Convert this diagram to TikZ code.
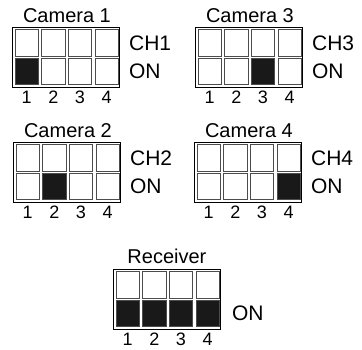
\documentclass[tikz,border=0pt]{standalone}
\usepackage{fontspec}
\setmainfont{Liberation Sans}
\usetikzlibrary{positioning,calc}

\tikzset{
    swbox/.style={draw=black, line width=0.9pt, minimum width=107pt, minimum height=60pt, inner sep=0pt},
    cell/.style={draw=black!70, line width=0.7pt, minimum width=23.5pt, minimum height=26.5pt, inner sep=0pt},
    oncell/.style={cell, fill=black!90},
    title/.style={font=\fontsize{20}{20}\selectfont, inner sep=0pt},
    side/.style={font=\fontsize{21}{21}\selectfont, inner sep=0pt, anchor=west},
    digit/.style={font=\fontsize{18}{18}\selectfont, inner sep=0pt}
}

% one DIP switch block: name, top-left corner, switches set to ON
\newcommand{\dipsw}[3]{%
    \node[swbox, anchor=north west] (#1) at (#2) {};
    \foreach \k in {1,...,4} {
        \node[cell, anchor=north west] (#1-up-\k) at ($(#1.north west)+({2.5+(\k-1)*26.7},2.5)$) {};
        \node[cell, anchor=north west] (#1-dn-\k) at ($(#1.north west)+({2.5+(\k-1)*26.7},31)$) {};
        \node[digit, anchor=north] (#1-n-\k) at ($(#1-dn-\k.south |- #1.south)+(0,3)$) {\k};
    }
    \foreach \k in {#3}
        \node[oncell, anchor=north west] at (#1-dn-\k.north west) {};
}

\begin{document}
\begin{tikzpicture}[x=1pt,y=-1pt]
    \useasboundingbox (0,0) rectangle (362,350);

    \dipsw{cam1}{12,27}{1}
    \dipsw{cam3}{195,27}{3}
    \dipsw{cam2}{13,142}{2}
    \dipsw{cam4}{194,142}{4}
    \dipsw{rcv}{113,269}{1,2,3,4}

    % titles
    \node[title, anchor=south] (t1) at ($(cam1.north)+(1,-4)$) {Camera 1};
    \node[title, anchor=south] (t3) at ($(cam3.north)+(1,-4)$) {Camera 3};
    \node[title, anchor=south] (t2) at ($(cam2.north)+(1,-4)$) {Camera 2};
    \node[title, anchor=south] (t4) at ($(cam4.north)+(1,-4)$) {Camera 4};
    \node[title, anchor=south] (tr) at ($(rcv.north)+(0,-5)$) {Receiver};

    % channel and ON labels
    \node[side] (ch1) at ($(cam1.east |- cam1-up-4.center)+(9,0)$) {CH1};
    \node[side] (on1) at ($(cam1.east |- cam1-dn-4.center)+(9,0)$) {ON};
    \node[side] (ch3) at ($(cam3.east |- cam3-up-4.center)+(9,0)$) {CH3};
    \node[side] (on3) at ($(cam3.east |- cam3-dn-4.center)+(9,0)$) {ON};
    \node[side] (ch2) at ($(cam2.east |- cam2-up-4.center)+(9,0)$) {CH2};
    \node[side] (on2) at ($(cam2.east |- cam2-dn-4.center)+(9,0)$) {ON};
    \node[side] (ch4) at ($(cam4.east |- cam4-up-4.center)+(9,0)$) {CH4};
    \node[side] (on4) at ($(cam4.east |- cam4-dn-4.center)+(9,0)$) {ON};
    \node[side] (onr) at ($(rcv.east |- rcv-dn-4.center)+(11,0)$) {ON};
\end{tikzpicture}
\end{document}
